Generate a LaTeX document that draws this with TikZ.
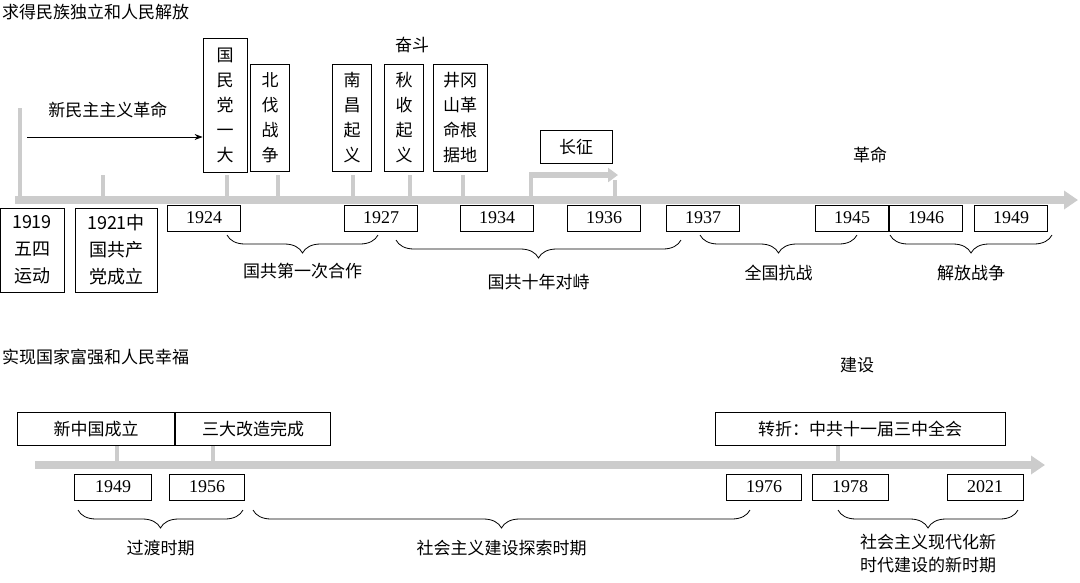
\documentclass[tikz,border=0pt]{standalone}
\usepackage{fontspec}
\setmainfont{Liberation Serif}
\newfontfamily\cjk{Noto Sans CJK SC}
\usetikzlibrary{arrows.meta,decorations.pathreplacing}
\begin{document}
\begin{tikzpicture}[x=1pt,y=-1pt,
    every node/.style={font=\cjk\fontsize{17}{25}\selectfont,inner sep=0pt},
    axis/.style={line width=8pt,draw=black!20,-{Triangle[length=14pt,width=18pt]}},
    tick/.style={line width=4pt,draw=black!20},
    yearbox/.style={draw,thick,minimum width=73pt,minimum height=26pt,font=\fontsize{18}{20}\selectfont},
    evbox/.style={draw,thick,align=center,minimum height=107pt},
    hbox/.style={draw,thick,minimum height=33pt},
    period/.style={decorate,decoration={brace,mirror,amplitude=18pt},thick}]
  \useasboundingbox (0,0) rectangle (1080,582);
  % upper half
  \node[anchor=west] (titleA) at (2,12) {求得民族独立和人民解放};
  \node (fendou) at (412,45) {奋斗};
  \node (geming) at (870,155) {革命};
  \draw[axis] (15,200) -- (1078,200);
  \draw[tick] (20,200) -- (20,108);
  \foreach \x in {103,227,278,353,410,463} \draw[tick] (\x,200) -- (\x,175);
  % long march
  \draw[tick] (531,200) -- (531,175);
  \draw[tick] (615,200) -- (615,180);
  \draw[line width=6pt,draw=black!20,-{Triangle[length=10pt,width=14pt]}] (529,175) -- (618,175);
  \node[hbox,minimum width=72pt] (changzheng) at (576,147) {长征};
  \node (xinmin) at (108,110) {新民主主义革命};
  \node[evbox,minimum width=44pt,minimum height=134pt] (yida) at (225,105) {国\\民\\党\\一\\大};
  \draw[-{Stealth[length=8pt]},thick] (27,137) -- (yida.west|-0,137);
  \node[evbox,minimum width=39pt] (beifa) at (270,118) {北\\伐\\战\\争};
  \node[evbox,minimum width=39pt] (nanchang) at (352,118) {南\\昌\\起\\义};
  \node[evbox,minimum width=39pt] (qiushou) at (404,118) {秋\\收\\起\\义};
  \node[evbox,minimum width=54pt] (jgs) at (460,118) {井冈\\山革\\命根\\据地};
  \node[draw,thick,align=center,minimum width=64pt,minimum height=84pt,font=\cjk\fontsize{18}{27}\selectfont] (y1919) at (32,250) {1919\\五四\\运动};
  \node[draw,thick,align=center,minimum width=82pt,minimum height=84pt,font=\cjk\fontsize{18}{27}\selectfont] (y1921) at (116,250) {1921中\\国共产\\党成立};
  \node[yearbox] (y1924) at (204,218) {1924};
  \node[yearbox] (y1927) at (381,218) {1927};
  \node[yearbox] (y1934) at (497,218) {1934};
  \node[yearbox] (y1936) at (604,218) {1936};
  \node[yearbox] (y1937) at (703,218) {1937};
  \node[yearbox] (y1945) at (852,218) {1945};
  \node[yearbox] (y1946) at (926,218) {1946};
  \node[yearbox] (y1949a) at (1011,218) {1949};
  \draw[period] (227,235) -- node[below=28pt] (hezuo) {国共第一次合作} (378,235);
  \draw[period] (396,240) -- node[below=34pt] (duizhi) {国共十年对峙} (681,240);
  \draw[period] (700,235) -- node[below=30pt] (kangzhan) {全国抗战} (857,235);
  \draw[period] (890,235) -- node[below=30pt] (jiefang) {解放战争} (1052,235);
  % lower half
  \node[anchor=west] (titleB) at (2,357) {实现国家富强和人民幸福};
  \node (jianshe) at (857,365) {建设};
  \draw[axis] (35,465) -- (1045,465);
  \foreach \x in {117,213,838} \draw[tick] (\x,465) -- (\x,445);
  \node[hbox,minimum width=157pt] (xinzg) at (96,429) {新中国成立};
  \node[hbox,minimum width=155pt] (sanda) at (253,429) {三大改造完成};
  \node[hbox,minimum width=290pt] (zhuanzhe) at (860,429) {转折：中共十一届三中全会};
  \node[yearbox,minimum width=77pt] (y1949b) at (113,487) {1949};
  \node[yearbox,minimum width=75pt] (y1956) at (207,487) {1956};
  \node[yearbox,minimum width=75pt] (y1976) at (764,487) {1976};
  \node[yearbox,minimum width=76pt] (y1978) at (850,487) {1978};
  \node[yearbox,minimum width=76pt] (y2021) at (985,487) {2021};
  \draw[period] (78,510) -- node[below=30pt] (guodu) {过渡时期} (243,510);
  \draw[period] (253,510) -- node[below=30pt] (tansuo) {社会主义建设探索时期} (750,510);
  \draw[period] (838,510) -- node[below=24pt,align=center,font=\cjk\fontsize{17}{23}\selectfont] (xinshiqi) {社会主义现代化新\\时代建设的新时期} (1018,510);
\end{tikzpicture}
\end{document}
